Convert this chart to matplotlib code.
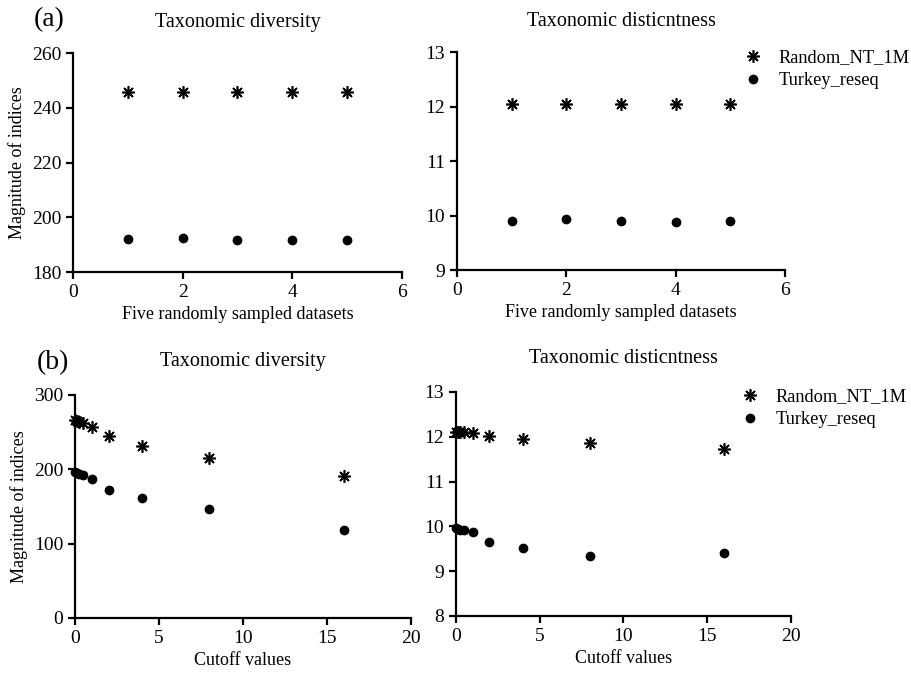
import matplotlib
matplotlib.use("Agg")
import matplotlib.pyplot as plt

plt.rcParams["font.family"] = ["Liberation Serif", "DejaVu Serif"]

# ---------------------------------------------------------------------------
# data
# ---------------------------------------------------------------------------
datasets = [1, 2, 3, 4, 5]
div_random = [245.8, 245.6, 245.9, 245.7, 245.9]
div_turkey = [191.9, 192.3, 191.7, 191.7, 191.7]
dist_random = [12.04, 12.04, 12.04, 12.05, 12.04]
dist_turkey = [9.90, 9.93, 9.90, 9.89, 9.90]

cutoffs = [0, 0.125, 0.25, 0.5, 1, 2, 4, 8, 16]
cut_div_random = [266, 265, 264, 262, 257, 245, 232, 215, 191]
cut_div_turkey = [197, 195, 194, 192, 187, 172, 161, 147, 119]
cut_dist_random = [12.11, 12.11, 12.11, 12.10, 12.08, 12.02, 11.96, 11.87, 11.72]
cut_dist_turkey = [9.96, 9.94, 9.93, 9.91, 9.88, 9.65, 9.51, 9.34, 9.41]

series_names = ["Random_NT_1M", "Turkey_reseq"]

STAR = (8, 2, 0)


def style_axes(ax, xlim, xticks, ylim, yticks):
    ax.set_xlim(*xlim)
    ax.set_ylim(*ylim)
    ax.set_xticks(xticks)
    ax.set_yticks(yticks)
    for s in ("top", "right"):
        ax.spines[s].set_visible(False)
    for s in ("left", "bottom"):
        ax.spines[s].set_linewidth(1.6)
    ax.tick_params(width=1.6, length=5, labelsize=14, direction="out")


def draw(ax, x, ya, yb):
    ax.plot(x, ya, linestyle="none", marker=STAR, markersize=9, color="black",
            markeredgewidth=1.2, label=series_names[0], clip_on=False)
    ax.plot(x, yb, linestyle="none", marker="o", markersize=6, color="black",
            label=series_names[1], clip_on=False)


def add_legend(ax, anchor):
    ax.legend(loc="upper left", bbox_to_anchor=anchor, frameon=False,
              fontsize=13.2, handlelength=1.0, handletextpad=0.9,
              labelspacing=0.3, borderaxespad=0)


fig = plt.figure(figsize=(9.12, 6.74), dpi=100)

ax1 = fig.add_axes([0.0800, 0.5964, 0.3607, 0.3249])
ax2 = fig.add_axes([0.5011, 0.5994, 0.3596, 0.3234])
ax3 = fig.add_axes([0.0822, 0.0831, 0.3684, 0.3309])
ax4 = fig.add_axes([0.5000, 0.0861, 0.3673, 0.3323])

# (a)
draw(ax1, datasets, div_random, div_turkey)
style_axes(ax1, (0, 6), [0, 2, 4, 6], (180, 260), [180, 200, 220, 240, 260])
ax1.set_title("Taxonomic diversity", fontsize=14.5, pad=19)
ax1.set_xlabel("Five randomly sampled datasets", fontsize=13, labelpad=4)
ax1.set_ylabel("Magnitude of indices", fontsize=13)

draw(ax2, datasets, dist_random, dist_turkey)
style_axes(ax2, (0, 6), [0, 2, 4, 6], (9, 13), [9, 10, 11, 12, 13])
ax2.set_title("Taxonomic disticntness", fontsize=14.5, pad=19)
ax2.set_xlabel("Five randomly sampled datasets", fontsize=13, labelpad=4)
add_legend(ax2, (0.852, 1.045))

# (b)
draw(ax3, cutoffs, cut_div_random, cut_div_turkey)
style_axes(ax3, (0, 20), [0, 5, 10, 15, 20], (0, 300), [0, 100, 200, 300])
ax3.set_title("Taxonomic diversity", fontsize=14.5, pad=21)
ax3.set_xlabel("Cutoff values", fontsize=13, labelpad=4)
ax3.set_ylabel("Magnitude of indices", fontsize=13)

draw(ax4, cutoffs, cut_dist_random, cut_dist_turkey)
style_axes(ax4, (0, 20), [0, 5, 10, 15, 20], (8, 13), [8, 9, 10, 11, 12, 13])
ax4.set_title("Taxonomic disticntness", fontsize=14.5, pad=21)
ax4.set_xlabel("Cutoff values", fontsize=13, labelpad=4)
add_legend(ax4, (0.828, 1.048))

fig.text(0.037, 0.99, "(a)", fontsize=20, va="top", ha="left")
fig.text(0.040, 0.480, "(b)", fontsize=20, va="top", ha="left")

fig.savefig("out.png", dpi=100)
